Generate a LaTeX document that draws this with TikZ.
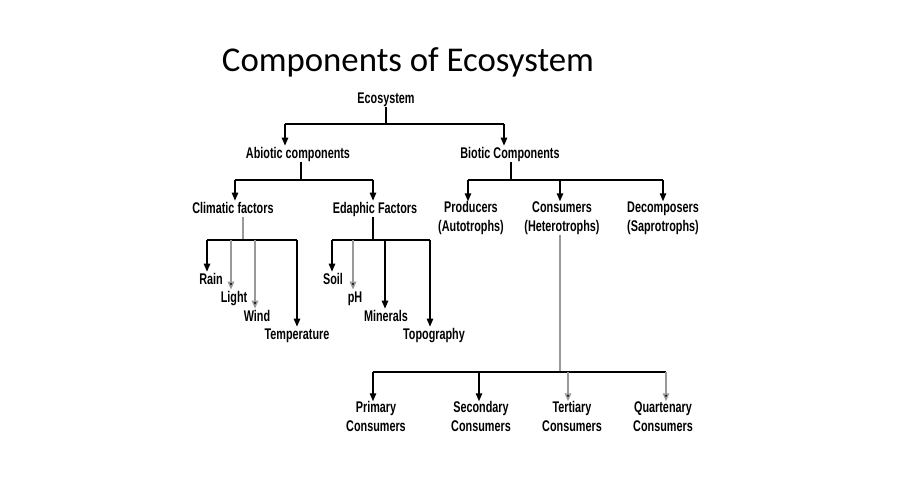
\documentclass[tikz,border=0pt]{standalone}
\usepackage{fontspec}
\setmainfont{Liberation Sans}[FakeStretch=0.7]
\newfontfamily\titlefont{Carlito}
\usetikzlibrary{arrows.meta}

\begin{document}
\begin{tikzpicture}[
  x=0.02cm, y=-0.02cm,
  lbl/.style={inner sep=0.5pt, align=center,
              font=\fontsize{8.8}{10.8}\selectfont\bfseries},
  lone/.style={lbl, text height=6.4pt, text depth=1.7pt},
  link/.style={line width=0.8pt},
  pale/.style={link, draw=black!40},
  arrow/.style={link, -{Triangle[length=4.5pt, width=3.6pt]}},
  palearrow/.style={arrow, draw=black!40, -{Triangle[length=4.5pt, width=3.6pt, fill=black]}}
]
\useasboundingbox[fill=white] (0,0) rectangle (900,500);

% title
\node[anchor=base, inner sep=0, font=\titlefont\fontsize{19.8}{23}\selectfont] (title) at (408,72) {Components of Ecosystem};

% levels
\node[lone] (eco) at (386,99) {Ecosystem};
\node[lone] (abio) at (298,154) {Abiotic components};
\node[lone] (bio) at (510,154) {Biotic Components};
\node[lone] (clim) at (233,209) {Climatic factors};
\node[lone] (edaph) at (375,209) {Edaphic Factors};
\node[lbl] (prod) at (471,218) {\strut Producers\\\strut(Autotrophs)};
\node[lbl] (cons) at (562,218) {\strut Consumers\\\strut(Heterotrophs)};
\node[lbl] (decomp) at (663,218) {\strut Decomposers\\\strut(Saprotrophs)};

% climatic leaves
\node[lone] (rain) at (211,280) {Rain};
\node[lone] (light) at (234,298) {Light};
\node[lone] (wind) at (257,317) {Wind};
\node[lone] (temp) at (297,335) {Temperature};

% edaphic leaves
\node[lone] (soil) at (333,280) {Soil};
\node[lone] (ph) at (355,298) {pH};
\node[lone] (mineral) at (386,317) {Minerals};
\node[lone] (topo) at (434,335) {Topography};

% consumer levels
\node[lbl] (prim) at (376,418) {\strut Primary\\\strut Consumers};
\node[lbl] (second) at (481,418) {\strut Secondary\\\strut Consumers};
\node[lbl] (tert) at (572,418) {\strut Tertiary\\\strut Consumers};
\node[lbl] (quart) at (663,418) {\strut Quartenary\\\strut Consumers};

% bus lines
\coordinate (ecoL) at (285,124);
\coordinate (ecoR) at (504,124);
\coordinate (abioL) at (235,180);
\coordinate (abioR) at (373,180);
\coordinate (bioL) at (468,180);
\coordinate (bioM) at (560,180);
\coordinate (bioR) at (663,180);
\coordinate (climL) at (207,240);
\coordinate (climR) at (297,240);
\coordinate (edaL) at (332,240);
\coordinate (edaR) at (430,240);
\coordinate (consL) at (373,372);
\coordinate (consR) at (666,372);

\draw[link] (eco) -- (eco |- ecoL);
\draw[link] (ecoL) -- (ecoR);
\draw[arrow] (ecoL) -- (ecoL |- abio.north);
\draw[arrow] (ecoR) -- (ecoR |- bio.north);

\draw[link] (abio.south -| 301,0) -- (abioL -| 301,0);
\draw[link] (abioL) -- (abioR);
\draw[arrow] (abioL) -- (abioL |- clim.north);
\draw[arrow] (abioR) -- (abioR |- edaph.north);

\draw[link] (bio.south -| 511,0) -- (bioL -| 511,0);
\draw[link] (bioL) -- (bioR);
\draw[arrow] (bioL) -- ([yshift=-2pt]bioL |- prod.north);
\draw[arrow] (bioM) -- ([yshift=-2pt]bioM |- cons.north);
\draw[arrow] (bioR) -- ([yshift=-2pt]bioR |- decomp.north);

\draw[pale] (clim.south -| 243,0) -- (climL -| 243,0);
\draw[link] (climL) -- (climR);
\draw[arrow] (climL) -- (climL |- rain.north);
\draw[palearrow] (climL -| 231,0) -- (light.north -| 231,0);
\draw[palearrow] (climL -| 255,0) -- (wind.north -| 255,0);
\draw[arrow] (climR) -- (climR |- temp.north);

\draw[link] (edaph.south -| 373,0) -- (edaL -| 373,0);
\draw[link] (edaL) -- (edaR);
\draw[arrow] (edaL) -- (edaL |- soil.north);
\draw[palearrow] (edaL -| 353,0) -- (ph.north -| 353,0);
\draw[arrow] (edaL -| 385,0) -- (mineral.north -| 385,0);
\draw[arrow] (edaR) -- (edaR |- topo.north);

\draw[pale] ([yshift=2pt]cons.south -| 560,0) -- (consL -| 560,0);
\draw[link] (consL) -- (consR);
\draw[arrow] (consL) -- ([yshift=-2pt]consL |- prim.north);
\draw[arrow] (consL -| 479,0) -- ([yshift=-2pt]second.north -| 479,0);
\draw[palearrow] (consL -| 568,0) -- ([yshift=-2pt]tert.north -| 568,0);
\draw[palearrow] (consR) -- ([yshift=-2pt]consR |- quart.north);
\end{tikzpicture}
\end{document}
